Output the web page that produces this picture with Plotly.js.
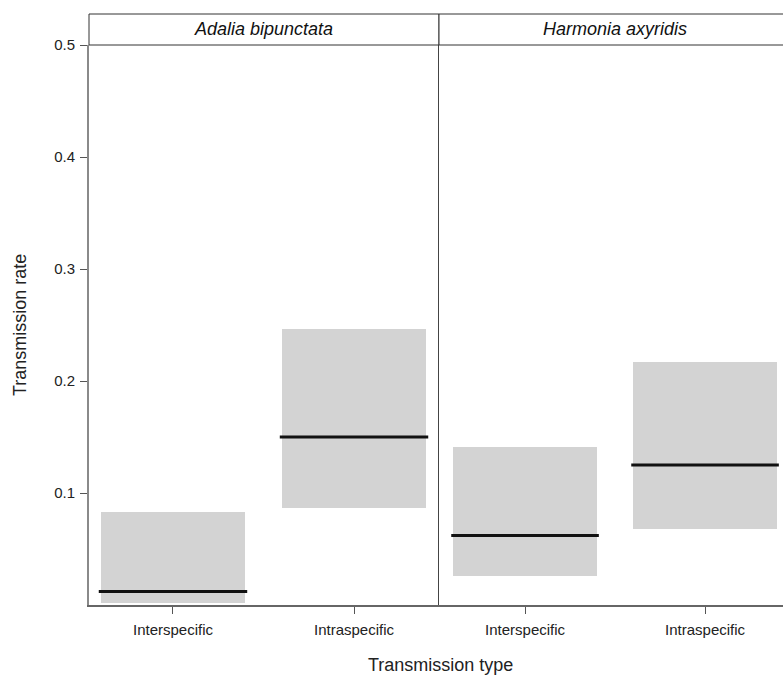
<!DOCTYPE html>
<html>
<head>
<meta charset="utf-8">
<script src="https://cdn.plot.ly/plotly-3.0.1.min.js"></script>
<style>
  html, body { margin: 0; padding: 0; background: #ffffff; }
  #chart { width: 783px; height: 675px; }
</style>
</head>
<body>
<div id="chart"></div>
<script>
// Transmission rate by transmission type, one panel per host species
const species = ["Adalia bipunctata", "Harmonia axyridis"];
const categories = ["Interspecific", "Intraspecific"];
const categoryPos = [1, 2];

// Estimated rate (median line) and interval bounds for each panel
const adaliaMedian = [0.012, 0.150];
const adaliaLower = [0.002, 0.087];
const adaliaUpper = [0.083, 0.246];

const harmoniaMedian = [0.062, 0.125];
const harmoniaLower = [0.026, 0.068];
const harmoniaUpper = [0.141, 0.217];

const yTicks = [0.1, 0.2, 0.3, 0.4, 0.5];

const boxWidth = 0.8;
const boxColor = "#d3d3d3";

function intervalBars(lower, upper, xa, ya) {
  return {
    type: "bar",
    x: categoryPos,
    base: lower,
    y: upper.map((u, i) => u - lower[i]),
    width: boxWidth,
    marker: { color: boxColor, line: { width: 0 } },
    xaxis: xa, yaxis: ya,
    hoverinfo: "skip",
    showlegend: false
  };
}

function medianLines(median, xa, ya) {
  const xs = [], ys = [];
  const half = boxWidth / 2 + 0.01;
  categoryPos.forEach((c, i) => {
    xs.push(c - half, c + half, null);
    ys.push(median[i], median[i], null);
  });
  return {
    type: "scatter", mode: "lines",
    x: xs, y: ys,
    line: { color: "#111111", width: 3 },
    xaxis: xa, yaxis: ya,
    hoverinfo: "skip",
    showlegend: false
  };
}

const data = [
  intervalBars(adaliaLower, adaliaUpper, "x", "y"),
  medianLines(adaliaMedian, "x", "y"),
  intervalBars(harmoniaLower, harmoniaUpper, "x2", "y2"),
  medianLines(harmoniaMedian, "x2", "y2")
];

const W = 783, H = 675;
const mL = 89, mR = 0, mT = 45, mB = 70;
const plotW = W - mL - mR;
const plotH = H - mT - mB;
const d1 = [0, 349 / plotW];
const d2 = [350 / plotW, 1];
const stripTop = 14;
const stripFrac = (mT - stripTop) / plotH; // strip height in paper units

const fam = "Liberation Sans, Arial, sans-serif";

const xCommon = {
  tickmode: "array",
  tickvals: categoryPos,
  ticktext: categories,
  ticks: "outside",
  ticklen: 7,
  tickwidth: 1,
  tickcolor: "#555555",
  ticklabelstandoff: 3,
  showline: true,
  linecolor: "#666666",
  linewidth: 1.5,
  showgrid: false,
  zeroline: false,
  fixedrange: true,
  tickfont: { family: fam, size: 15, color: "#222222" }
};

const layout = {
  width: W, height: H,
  margin: { l: mL, r: mR, t: mT, b: mB, pad: 0 },
  paper_bgcolor: "#ffffff",
  plot_bgcolor: "#ffffff",
  font: { family: fam, color: "#222222" },
  showlegend: false,
  bargap: 0,
  xaxis: Object.assign({}, xCommon, { domain: d1, range: [0.536, 2.464], anchor: "y" }),
  xaxis2: Object.assign({}, xCommon, { domain: d2, range: [0.522, 2.433], anchor: "y2" }),
  yaxis: {
    domain: [0, 1],
    range: [0, 0.5],
    tickmode: "array",
    tickvals: yTicks,
    ticktext: yTicks.map(v => v.toFixed(1)),
    ticks: "outside",
    ticklen: 7,
    tickwidth: 1,
    tickcolor: "#555555",
    ticklabelstandoff: 2,
    showline: true,
    linecolor: "#8a8a8a",
    linewidth: 2,
    showgrid: false,
    zeroline: false,
    fixedrange: true,
    tickfont: { family: fam, size: 15, color: "#222222" },
    anchor: "x"
  },
  yaxis2: {
    domain: [0, 1],
    range: [0, 0.5],
    anchor: "x2",
    showticklabels: false,
    ticks: "",
    showline: true,
    linecolor: "#444444",
    linewidth: 1.5,
    showgrid: false,
    zeroline: false,
    fixedrange: true
  },
  shapes: [
    // strip boxes above each panel
    {
      type: "rect", xref: "paper", yref: "paper",
      x0: d1[0], x1: d2[0], y0: 1, y1: 1 + stripFrac,
      line: { color: "#333333", width: 1 }, fillcolor: "#ffffff"
    },
    {
      type: "rect", xref: "paper", yref: "paper",
      x0: d2[0], x1: 1.01, y0: 1, y1: 1 + stripFrac,
      line: { color: "#333333", width: 1 }, fillcolor: "#ffffff"
    }
  ],
  annotations: [
    {
      xref: "paper", yref: "paper",
      x: (d1[0] + d1[1]) / 2, y: 1 + stripFrac / 2,
      text: species[0], showarrow: false,
      xanchor: "center", yanchor: "middle",
      font: { family: fam, size: 18, color: "#111111", style: "italic" }
    },
    {
      xref: "paper", yref: "paper",
      x: (615 - mL) / plotW, y: 1 + stripFrac / 2,
      text: species[1], showarrow: false,
      xanchor: "center", yanchor: "middle",
      font: { family: fam, size: 18, color: "#111111", style: "italic" }
    },
    {
      xref: "paper", yref: "paper",
      x: (440 - mL) / plotW, y: -(665 - (H - mB)) / plotH,
      text: "Transmission type", showarrow: false,
      xanchor: "center", yanchor: "middle",
      font: { family: fam, size: 18, color: "#222222" }
    },
    {
      xref: "paper", yref: "paper",
      x: -(mL - 20) / plotW, y: 0.5,
      text: "Transmission rate", showarrow: false, textangle: -90,
      xanchor: "center", yanchor: "middle",
      font: { family: fam, size: 18, color: "#222222" }
    }
  ]
};

Plotly.newPlot("chart", data, layout, { displayModeBar: false, staticPlot: true });
</script>
</body>
</html>
